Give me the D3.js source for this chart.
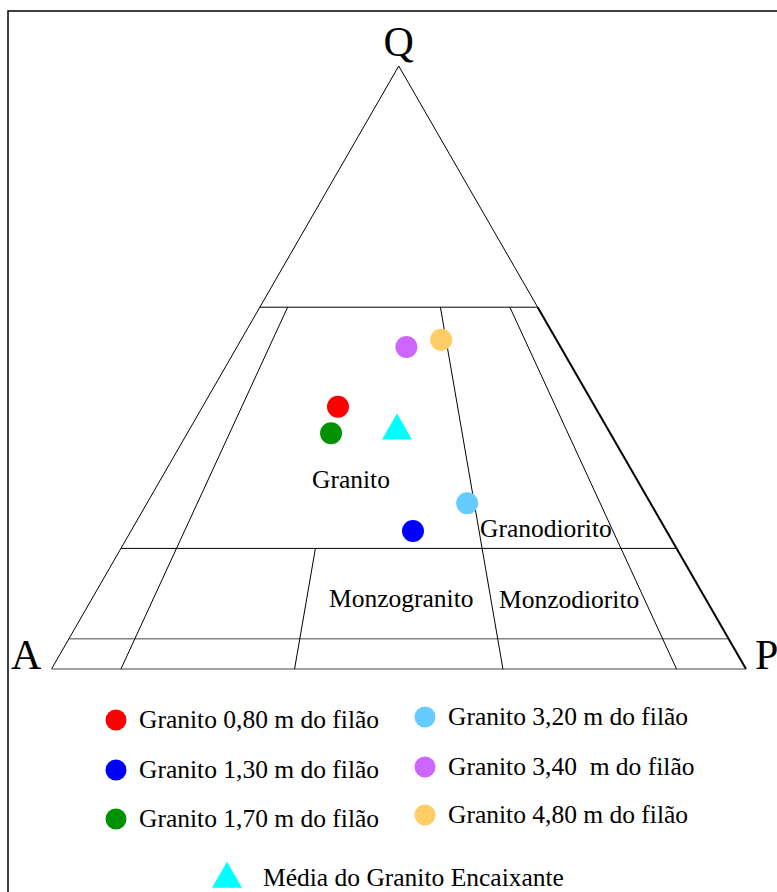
<!DOCTYPE html>
<html lang="pt">
<head>
    <meta charset="UTF-8">
    <title>QAP</title>
    <script type="text/javascript" src="https://cdn.jsdelivr.net/npm/d3@7"></script>
    <style>
        body { margin: 0; background: #fff; }
        svg text { font-family: "Liberation Serif", "Times New Roman", serif; fill: #000; }
        .field line { stroke: #000; stroke-width: 1; }
    </style>
</head>
<body>
<svg id="chart" width="777" height="892"></svg>
<script>
    // amostras (Q, A, P em %)
    var names = ["Granito 0,80 m do filão", "Granito 1,30 m do filão", "Granito 1,70 m do filão",
                 "Granito 3,20 m do filão", "Granito 3,40  m do filão", "Granito 4,80 m do filão"];
    var qVals = [43.5, 22.9, 39.1, 27.5, 53.4, 54.6];
    var aVals = [37.0, 36.5, 40.2, 26.4, 22.2, 16.6];
    var pVals = [19.5, 40.6, 20.7, 46.1, 24.4, 28.8];
    var colors = ["#ff0000", "#0000ff", "#009100", "#66ccff", "#cc66ff", "#ffcc66"];

    var meanName = "Média do Granito Encaixante";
    var meanQAP = [39.5, 30.5, 30.0];

    // limites dos campos
    var qLevels = [60, 20, 5];
    var ratioLines = [
        {f: 0.10, qTop: 60},
        {f: 0.35, qTop: 20},
        {f: 0.65, qTop: 60},
        {f: 0.90, qTop: 60}
    ];

    var svg = d3.select("#chart");

    var apexX = 398.75;
    var yScale = d3.scaleLinear().domain([0, 100]).range([669, 66]);
    var baseX = d3.scaleLinear().domain([0, 1]).range([51.5, 746]);

    // ternary -> pixel
    function proj(q, a, p) {
        var f = (a + p) === 0 ? 0.5 : p / (a + p);
        var t = 1 - q / 100;
        return [apexX + t * (baseX(f) - apexX), yScale(q)];
    }

    // frame
    svg.append("rect")
        .attr("x", 8).attr("y", 11)
        .attr("width", 800).attr("height", 900)
        .attr("fill", "none")
        .attr("stroke", "#000")
        .attr("stroke-width", 1.5);

    var field = svg.append("g").attr("class", "field");

    var A = proj(0, 100, 0), P = proj(0, 0, 100), Q = proj(100, 0, 0);
    var P60 = proj(60, 0, 40);

    field.append("line")
        .attr("x1", A[0]).attr("y1", A[1]).attr("x2", Q[0]).attr("y2", Q[1]);
    field.append("line")
        .attr("x1", Q[0]).attr("y1", Q[1]).attr("x2", P60[0]).attr("y2", P60[1]);
    field.append("line")
        .attr("x1", P60[0]).attr("y1", P60[1]).attr("x2", P[0]).attr("y2", P[1])
        .style("stroke-width", 2);
    field.append("line")
        .attr("x1", A[0]).attr("y1", A[1]).attr("x2", P[0]).attr("y2", P[1])
        .style("stroke", "#444");

    field.selectAll("line.level")
        .data(qLevels)
        .enter()
        .append("line")
        .attr("class", "level")
        .attr("x1", function (d) { return proj(d, 100 - d, 0)[0]; })
        .attr("y1", function (d) { return proj(d, 100 - d, 0)[1]; })
        .attr("x2", function (d) { return proj(d, 0, 100 - d)[0]; })
        .attr("y2", function (d) { return proj(d, 0, 100 - d)[1]; })
        .style("stroke", function (d) { return d === 5 ? "#444" : "#000"; });

    field.selectAll("line.ratio")
        .data(ratioLines)
        .enter()
        .append("line")
        .attr("class", "ratio")
        .attr("x1", function (d) { return proj(d.qTop, (100 - d.qTop) * (1 - d.f), (100 - d.qTop) * d.f)[0]; })
        .attr("y1", function (d) { return proj(d.qTop, 0, 1)[1]; })
        .attr("x2", function (d) { return proj(0, 100 * (1 - d.f), 100 * d.f)[0]; })
        .attr("y2", function (d) { return proj(0, 1, 0)[1]; });

    // vertex labels
    svg.append("text").attr("x", apexX).attr("y", 56)
        .attr("text-anchor", "middle").style("font-size", "42px").text("Q");
    svg.append("text").attr("x", 11).attr("y", 669)
        .style("font-size", "42px").text("A");
    svg.append("text").attr("x", 755).attr("y", 669)
        .style("font-size", "42px").text("P");

    // field labels
    var fieldLabels = [
        {t: "Granito", x: 312, y: 488},
        {t: "Granodiorito", x: 480, y: 537},
        {t: "Monzogranito", x: 329, y: 607},
        {t: "Monzodiorito", x: 499, y: 608}
    ];
    svg.selectAll("text.fieldLabel")
        .data(fieldLabels)
        .enter()
        .append("text")
        .attr("class", "fieldLabel")
        .attr("x", function (d) { return d.x; })
        .attr("y", function (d) { return d.y; })
        .style("font-size", "25.5px")
        .text(function (d) { return d.t; });

    // points
    var points = names.map(function (n, i) {
        return {name: n, q: qVals[i], a: aVals[i], p: pVals[i], color: colors[i]};
    });

    svg.append("g").selectAll("circle")
        .data(points)
        .enter()
        .append("circle")
        .attr("cx", function (d) { return proj(d.q, d.a, d.p)[0]; })
        .attr("cy", function (d) { return proj(d.q, d.a, d.p)[1]; })
        .attr("r", 11)
        .attr("fill", function (d) { return d.color; });

    var tri = d3.symbol().type(d3.symbolTriangle).size(390);
    var m = proj(meanQAP[0], meanQAP[1], meanQAP[2]);
    svg.append("path")
        .attr("d", tri())
        .attr("transform", "translate(" + m[0] + "," + m[1] + ")")
        .attr("fill", "#00ffff");

    // legend
    var legendPos = [
        {x: 116, y: 720}, {x: 116, y: 770}, {x: 116, y: 819},
        {x: 425, y: 717}, {x: 425, y: 767}, {x: 425, y: 815}
    ];
    var legend = svg.append("g").selectAll("g")
        .data(points)
        .enter()
        .append("g")
        .attr("transform", function (d, i) {
            return "translate(" + legendPos[i].x + "," + legendPos[i].y + ")";
        });
    legend.append("circle")
        .attr("r", 10.5)
        .attr("fill", function (d) { return d.color; });
    legend.append("text")
        .attr("x", 23)
        .attr("y", 8)
        .style("font-size", "25.5px")
        .style("white-space", "pre")
        .attr("xml:space", "preserve")
        .text(function (d) { return d.name; });

    svg.append("path")
        .attr("d", tri())
        .attr("transform", "translate(227,879)")
        .attr("fill", "#00ffff");
    svg.append("text")
        .attr("x", 263).attr("y", 886)
        .style("font-size", "25.5px")
        .text(meanName);
</script>
</body>
</html>
